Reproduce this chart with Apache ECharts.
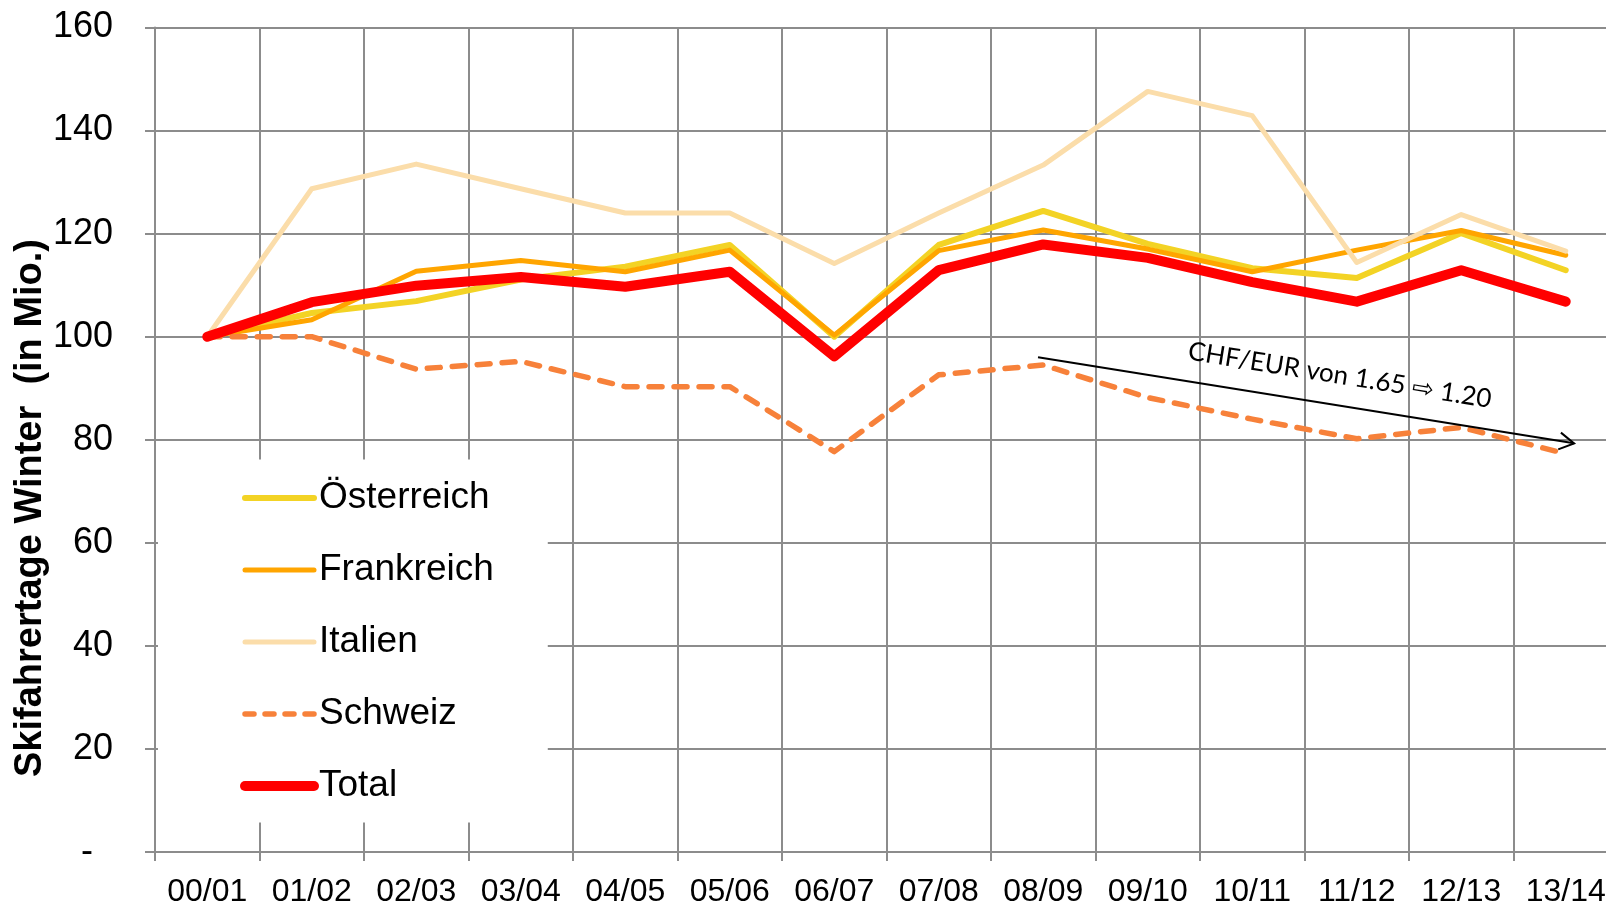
<!DOCTYPE html>
<html>
<head>
<meta charset="utf-8">
<script src="https://cdn.jsdelivr.net/npm/echarts@6/dist/echarts.min.js"></script>
<style>
html,body{margin:0;padding:0;background:#fff;}
#chart{width:1606px;height:904px;}
</style>
</head>
<body>
<div id="chart"></div>
<script>
// ---- data ----
const categories = ['00/01','01/02','02/03','03/04','04/05','05/06','06/07','07/08','08/09','09/10','10/11','11/12','12/13','13/14'];
const oesterreich = [100, 104.6, 106.9, 111.1, 113.6, 117.8, 100.0, 117.8, 124.4, 118.0, 113.3, 111.4, 120.1, 112.9];
const frankreich  = [100, 103.3, 112.7, 114.8, 112.6, 116.8, 100.3, 116.7, 120.7, 117.0, 112.6, 116.8, 120.6, 115.8];
const italien     = [100, 128.7, 133.5, 128.7, 124.0, 124.0, 114.2, 124.0, 133.3, 147.6, 142.9, 114.4, 123.7, 116.6];
const schweiz     = [100, 100.0, 93.7, 95.2, 90.3, 90.3, 77.7, 92.6, 94.5, 88.2, 84.0, 80.2, 82.4, 77.3];
const total       = [100, 106.7, 109.9, 111.6, 109.7, 112.6, 96.2, 112.9, 117.9, 115.3, 110.6, 106.8, 112.9, 106.8];
const seriesNames = ['Österreich', 'Frankreich', 'Italien', 'Schweiz', 'Total'];
const yMin = 0, yMax = 160, yStep = 20;
const yTitle = 'Skifahrertage Winter  (in Mio.)';
const annotationText = 'CHF/EUR von 1.65 \u21E8 1.20';
const arrowStart = [7.95, 96.0];   // [category index, value]
const arrowEnd   = [13.08, 79.3];

// ---- styling ----
const FONT = '"Liberation Sans", Arial, sans-serif';
const GRID_COLOR = '#8c8c8c';
const colors = ['#F3D325', '#FFA500', '#FBDDAA', '#F7813A', '#FF0000'];
const widths = [6, 5, 5, 5.5, 10];
const dataSets = [oesterreich, frankreich, italien, schweiz, total];

const chart = echarts.init(document.getElementById('chart'), null, {renderer: 'canvas'});

const series = seriesNames.map((name, i) => ({
  name: name,
  type: 'line',
  data: dataSets[i],
  symbol: 'none',
  showSymbol: false,
  smooth: false,
  z: 2 + i,
  lineStyle: {
    color: colors[i],
    width: widths[i],
    type: name === 'Schweiz' ? [13, 12] : 'solid',
    cap: 'round',
    join: 'round'
  },
  itemStyle: {color: colors[i]},
  emphasis: {disabled: true}
}));

const option = {
  animation: false,
  backgroundColor: '#fff',
  grid: {left: 155, top: 27.5, width: 1463, bottom: 52, containLabel: false, outerBoundsMode: 'none'},
  xAxis: {
    type: 'category',
    data: categories,
    boundaryGap: true,
    axisLine: {show: true, lineStyle: {color: GRID_COLOR, width: 2}},
    axisTick: {show: true, interval: 0, length: 9, lineStyle: {color: GRID_COLOR, width: 2}},
    splitLine: {show: true, interval: 0, lineStyle: {color: GRID_COLOR, width: 2}},
    axisLabel: {interval: 0, margin: 24, fontSize: 32, color: '#000', fontFamily: FONT, hideOverlap: false}
  },
  yAxis: {
    type: 'value',
    min: yMin, max: yMax, interval: yStep,
    axisLine: {show: true, lineStyle: {color: GRID_COLOR, width: 2}},
    axisTick: {show: true, length: 10, lineStyle: {color: GRID_COLOR, width: 2}},
    splitLine: {show: true, lineStyle: {color: GRID_COLOR, width: 2}},
    axisLabel: {
      margin: 42, fontSize: 36, color: '#000', fontFamily: FONT,
      formatter: v => (v === 0 ? '-  ' : String(v))
    }
  },
  legend: {
    orient: 'vertical',
    left: 158, top: 459.5,
    backgroundColor: '#fff',
    padding: [20, 54, 18, 82],
    itemWidth: 69, itemHeight: 14, itemGap: 35,
    selectedMode: false,
    z: 10,
    textStyle: {fontFamily: FONT, fontSize: 37, color: '#000', lineHeight: 37},
    data: seriesNames.map((name, i) => ({
      name: name,
      itemStyle: {opacity: 0},
      lineStyle: {
        width: widths[i], color: colors[i], cap: 'round',
        type: name === 'Schweiz' ? [9, 11] : 'solid'
      }
    }))
  },
  graphic: [{
    type: 'text',
    x: 31, y: 508,
    rotation: Math.PI / 2,
    style: {
      text: yTitle, fill: '#000',
      fontFamily: FONT, fontWeight: 'bold', fontSize: 38,
      align: 'center', verticalAlign: 'middle'
    }
  }],
  series: series
};

chart.setOption(option);

// ---- annotation arrow placed through the axes ----
function toPx(pt) {
  const a = chart.convertToPixel({gridIndex: 0}, [0, pt[1]]);
  const b = chart.convertToPixel({gridIndex: 0}, [1, pt[1]]);
  return [a[0] + pt[0] * (b[0] - a[0]), a[1]];
}
const p0 = toPx(arrowStart), p1 = toPx(arrowEnd);
const ang = Math.atan2(p1[1] - p0[1], p1[0] - p0[0]);
const headLen = 17, headAng = Math.PI / 6;
const h1 = [p1[0] - headLen * Math.cos(ang - headAng), p1[1] - headLen * Math.sin(ang - headAng)];
const h2 = [p1[0] - headLen * Math.cos(ang + headAng), p1[1] - headLen * Math.sin(ang + headAng)];
const t = 0.554, off = 30;
const mid = [p0[0] + t * (p1[0] - p0[0]) + off * Math.sin(ang), p0[1] + t * (p1[1] - p0[1]) - off * Math.cos(ang)];

chart.setOption({
  graphic: [
    option.graphic[0],
    {type: 'line', z: 20, shape: {x1: p0[0], y1: p0[1], x2: p1[0], y2: p1[1]}, style: {stroke: '#000', lineWidth: 2}},
    {type: 'polyline', z: 20, shape: {points: [h1, p1, h2]}, style: {stroke: '#000', lineWidth: 2, fill: null}},
    {type: 'text', z: 20, x: mid[0], y: mid[1], rotation: -ang,
     style: {text: annotationText, fill: '#000', fontFamily: 'Lato, "Open Sans", sans-serif', fontSize: 26,
             align: 'center', verticalAlign: 'middle'}}
  ]
});
</script>
</body>
</html>
